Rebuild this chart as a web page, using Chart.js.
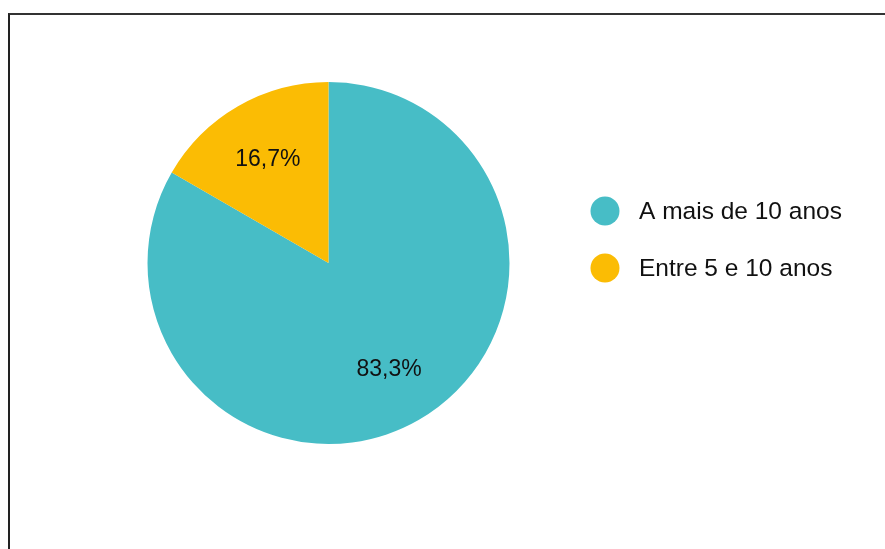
<!DOCTYPE html>
<html>
<head>
<meta charset="utf-8">
<script src="https://cdn.jsdelivr.net/npm/chart.js@4"></script>
<style>
  html, body { margin: 0; padding: 0; background: #fff; }
  #wrap { position: relative; width: 885px; height: 549px; overflow: hidden; }
  #frame {
    position: absolute; left: 8px; top: 13px; width: 900px; height: 600px;
    border-top: 2px solid #333; border-left: 2px solid #222;
  }
  canvas { position: absolute; left: 0; top: 0; }
</style>
</head>
<body>
<div id="wrap">
  <div id="frame"></div>
  <canvas id="myChart" width="885" height="549"></canvas>
</div>
<script>
const labels = ["A mais de 10 anos", "Entre 5 e 10 anos"];
const counts = [5, 1];
const colors = ["#47bdc6", "#fbbc04"];

const fontFamily = "'Liberation Sans', Arial, sans-serif";

// percentage text inside each slice
const sliceLabels = {
  id: "sliceLabels",
  afterDatasetsDraw(chart) {
    const ctx = chart.ctx;
    const meta = chart.getDatasetMeta(0);
    const total = counts.reduce((a, b) => a + b, 0);
    ctx.save();
    ctx.font = "23px " + fontFamily;
    ctx.fillStyle = "#111";
    ctx.textAlign = "center";
    ctx.textBaseline = "middle";
    meta.data.forEach((arc, i) => {
      const p = arc.getProps(["x", "y", "startAngle", "endAngle", "outerRadius"], true);
      const mid = (p.startAngle + p.endAngle) / 2;
      const r = p.outerRadius * 0.67;
      const pct = (counts[i] / total * 100).toFixed(1).replace(".", ",") + "%";
      ctx.fillText(pct, p.x + Math.cos(mid) * r, p.y + Math.sin(mid) * r + 2);
    });
    ctx.restore();
  }
};

// legend on the right, circle markers
const sideLegend = {
  id: "sideLegend",
  afterDraw(chart) {
    const ctx = chart.ctx;
    ctx.save();
    ctx.font = "24.5px " + fontFamily;
    ctx.textBaseline = "middle";
    ctx.textAlign = "left";
    labels.forEach((lab, i) => {
      const y = 211 + i * 57;
      ctx.fillStyle = colors[i];
      ctx.beginPath();
      ctx.arc(605, y, 14.5, 0, Math.PI * 2);
      ctx.fill();
      ctx.fillStyle = "#111";
      ctx.fillText(lab, 639, y + 1);
    });
    ctx.restore();
  }
};

function renderChart() {
  const ctx = document.getElementById("myChart");
  new Chart(ctx, {
    type: "pie",
    data: {
      labels: labels,
      datasets: [
        {
          data: counts,
          backgroundColor: colors,
          borderWidth: 0,
        },
      ],
    },
    options: {
      responsive: false,
      animation: false,
      layout: { padding: { left: 147, right: 375, top: 82, bottom: 105 } },
      plugins: {
        legend: { display: false },
        tooltip: { enabled: false },
      },
    },
    plugins: [sliceLabels, sideLegend],
  });
}

renderChart();
</script>
</body>
</html>
